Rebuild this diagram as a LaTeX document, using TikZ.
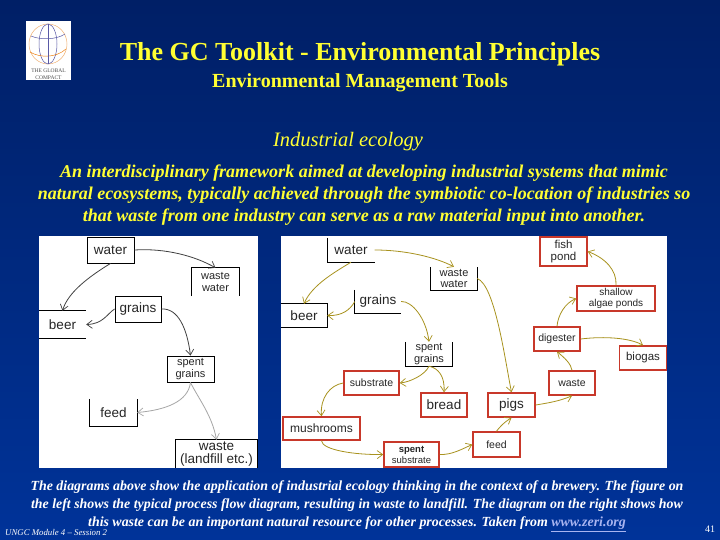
\documentclass[tikz,border=0pt]{standalone}
\usepackage{fontspec}
\setmainfont{Liberation Serif}
\newfontfamily\diagfont{Liberation Sans}
\usetikzlibrary{arrows.meta}
\definecolor{bgtop}{HTML}{001F66}
\definecolor{bgbot}{HTML}{003399}
\definecolor{titley}{HTML}{FFFF33}
\definecolor{redbox}{HTML}{C8382A}
\definecolor{olive}{HTML}{A8921E}
\definecolor{linkc}{HTML}{A8B4F0}
\tikzset{
  box/.style={inner sep=0pt,minimum width=#1,align=center,font=\diagfont\fontsize{13.5}{14}\selectfont,text=black!85},
  box/.default=47pt,
  ln/.style={line width=0.9pt,black},
  full/.style={box=#1,draw=black,line width=0.9pt},
  full/.default=47pt,
  redn/.style={box=#1,draw=redbox,line width=1.5pt,fill=white},
  redn/.default=47pt,
  two/.style={font=\diagfont\fontsize{11}{11.5}\selectfont},
  arr/.style={-{Straight Barb[length=5.5pt,width=8pt,line width=0.7pt]},line width=0.8pt},
  dk/.style={arr,draw=black!75},
  lt/.style={arr,draw=black!35},
  ol/.style={arr,draw=olive},
  ttl/.style={text=titley,font=\bfseries,inner sep=0pt},
  bodyt/.style={text=titley,font=\bfseries\itshape\fontsize{18}{22}\selectfont,align=center,inner sep=0pt},
  capt/.style={text=white,font=\bfseries\itshape\fontsize{13.9}{18}\selectfont,align=center,inner sep=0pt},
  globe/.style={line width=0.5pt}
}
\begin{document}
\begin{tikzpicture}[x=1pt,y=-1pt]
\useasboundingbox (0,0) rectangle (720,540);
\shade[top color=bgtop,bottom color=bgbot] (0,0) rectangle (720,540);
% logo
\fill[white] (26,21) rectangle (71,80);
\draw[globe,draw=orange!60!brown!60] (48,44) ellipse (19 and 20);
\draw[globe,draw=blue!30!gray] (48,44) ellipse (9 and 20);
\draw[globe,draw=orange!70!brown] (30,52) .. controls (40,58) and (56,58) .. (66,49);
\draw[globe,draw=blue!30!gray] (31,36) .. controls (40,40) and (56,40) .. (65,34);
\draw[globe,draw=blue!30!gray] (48,24) -- (48,64);
\node[inner sep=0pt,align=center,text=black!70,font=\fontsize{5.5}{7}\selectfont] (logotext) at (48.5,74) {THE GLOBAL\\COMPACT};
% titles
\node[ttl,font=\bfseries\fontsize{26}{26}\selectfont] (title) at (360,54) {The GC Toolkit - Environmental Principles};
\node[ttl,font=\bfseries\fontsize{20}{20}\selectfont] (subtitle) at (360,83) {Environmental Management Tools};
\node[ttl,font=\itshape\fontsize{20.5}{21}\selectfont] (heading) at (348,141.5) {Industrial ecology};
\node[bodyt] (body) at (364,195) {An interdisciplinary framework aimed at developing industrial systems that mimic\\natural ecosystems, typically achieved through the symbiotic co-location of industries so\\that waste from one industry can serve as a raw material input into another.};
% panels
\fill[white] (39,236) rectangle (258,468);
\fill[white] (281,236) rectangle (667,468);
% left diagram
\node[full,minimum height=26pt] (lwater) at (110.5,250) {water};
\node[box,two,minimum height=28pt] (lwaste) at (215.5,282) {waste\\water};
\draw[ln] (lwaste.south west) -- (lwaste.north west) -- (lwaste.north east) -- (lwaste.south east);
\node[full=46pt,minimum height=26pt] (lgrains) at (138,309) {grains};
\node[box,minimum height=27pt] (lbeer) at (62.5,324.5) {beer};
\draw[ln] (lbeer.north west) -- (lbeer.north east) (lbeer.south west) -- (lbeer.south east);
\node[full,two,minimum height=26pt] (lspent) at (190.5,369) {spent\\grains};
\node[box,minimum height=27pt] (lfeed) at (113.5,412.5) {feed};
\draw[ln] (lfeed.north west) -- (lfeed.south west) -- (lfeed.south east) -- (lfeed.north east);
\node[box=81pt,minimum height=28pt,font=\diagfont\fontsize{13.5}{13}\selectfont] (lland) at (216.5,454) {waste\\(landfill etc.)};
\draw[ln] (lland.south west) -- (lland.north west) -- (lland.north east) -- (lland.south east);
\draw[dk] (lwater.east) .. controls (165,248) and (195,256) .. (lwaste.north);
\draw[dk] (lwater.south) .. controls (90,276) and (68,292) .. (lbeer.north);
\draw[dk] (lgrains.west) .. controls (107,314) and (103,324) .. (lbeer.east);
\draw[dk] (lgrains.east) .. controls (178,308) and (187,328) .. (lspent.north);
\draw[lt] (lspent.south) .. controls (188,402) and (165,410) .. (lfeed.east);
\draw[lt] (lspent.south) .. controls (198,398) and (212,415) .. (lland.north);
% right diagram
\node[box,minimum height=24pt] (rwater) at (351,250) {water};
\draw[ln] (rwater.north west) -- (rwater.south west) -- (rwater.south east);
\node[box=46pt,two,minimum height=23pt] (rwaste) at (454,278.5) {waste\\water};
\draw[ln] (rwaste.north west) -- (rwaste.south west) -- (rwaste.south east) -- (rwaste.north east);
\node[box=46pt,minimum height=23pt] (rgrains) at (378,301.5) {grains};
\draw[ln] (rgrains.north west) -- (rgrains.south west) -- (rgrains.south east);
\node[box=46pt,minimum height=23pt] (rbeer) at (304,315.5) {beer};
\draw[ln] (rbeer.north west) -- (rbeer.north east) -- (rbeer.south east) -- (rbeer.south west);
\node[box=46pt,two,minimum height=24pt] (rspent) at (429,354) {spent\\grains};
\draw[ln] (rspent.north west) -- (rspent.south west) -- (rspent.south east) -- (rspent.north east);
\node[redn=55pt,minimum height=24pt,font=\diagfont\fontsize{10.5}{11}\selectfont] (rsub) at (371.5,383) {substrate};
\node[redn=46pt,minimum height=24pt] (rbread) at (444,405) {bread};
\node[redn=77pt,minimum height=23pt,font=\diagfont\fontsize{12}{12}\selectfont] (rmush) at (321.5,428.5) {mushrooms};
\node[redn=55pt,minimum height=25pt,font=\diagfont\fontsize{9.5}{11}\selectfont] (rspsub) at (411.5,454.5) {\textbf{spent}\\substrate};
\node[redn=47pt,minimum height=25pt,font=\diagfont\fontsize{10.5}{11}\selectfont] (rfeed) at (496.5,444.5) {feed};
\node[redn=47pt,minimum height=24pt] (rpigs) at (511.5,405) {pigs};
\node[redn=46pt,minimum height=24pt,font=\diagfont\fontsize{10.5}{11}\selectfont] (rwst) at (572,383) {waste};
\node[redn=46pt,minimum height=24pt,font=\diagfont\fontsize{10.5}{11}\selectfont] (rdig) at (557,339) {digester};
\node[redn=47pt,minimum height=24pt,font=\diagfont\fontsize{11.5}{11}\selectfont] (rbio) at (643,358) {biogas};
\node[redn=78pt,minimum height=25pt,font=\diagfont\fontsize{10}{10.5}\selectfont] (ralg) at (616,298.5) {shallow\\algae ponds};
\node[redn=47pt,minimum height=29pt,font=\diagfont\fontsize{11.5}{12}\selectfont] (rfish) at (563.5,251.5) {fish\\pond};
\draw[ol] (rwater.east) .. controls (405,250) and (435,257) .. (rwaste.north);
\draw[ol] (rwater.south) .. controls (335,272) and (312,285) .. (rbeer.north);
\draw[ol] (rgrains.west) .. controls (350,310) and (342,316) .. (rbeer.east);
\draw[ol] (rgrains.east) .. controls (412,301) and (426,318) .. (rspent.north);
\draw[ol] (rspent.south) .. controls (425,375) and (410,382) .. (rsub.east);
\draw[ol] (rspent.south) .. controls (438,368) and (445,376) .. (rbread.north);
\draw[ol] (rsub.west) .. controls (330,385) and (320,398) .. (rmush.north);
\draw[ol] (rmush.south) .. controls (322,450) and (355,455) .. (rspsub.west);
\draw[ol] (rspsub.east) .. controls (452,455) and (462,449) .. (rfeed.west);
\draw[ol] (rwaste.east) .. controls (495,285) and (505,360) .. (rpigs.north);
\draw[ol] (rfeed.north) .. controls (499,428) and (503,423) .. (rpigs.south);
\draw[ol] (rpigs.east) .. controls (548,403) and (560,401) .. (rwst.south);
\draw[ol] (rwst.north) .. controls (571,364) and (565,358) .. (rdig.south);
\draw[ol] (rdig.north) .. controls (558,315) and (565,303) .. (ralg.west);
\draw[ol] (rdig.east) .. controls (605,336) and (630,338) .. (rbio.north);
\draw[ol] (ralg.north) .. controls (617,270) and (605,258) .. (rfish.east);
% caption
\node[capt] (caption) at (357,506) {The diagrams above show the application of industrial ecology thinking in the context of a brewery. The figure on\\the left shows the typical process flow diagram, resulting in waste to landfill. The diagram on the right shows how\\this waste can be an important natural resource for other processes. Taken from \textcolor{linkc}{\underline{www.zeri.org}}};
\node[inner sep=0pt,anchor=west,text=white,font=\itshape\fontsize{8.8}{9}\selectfont] (footer) at (5,532) {UNGC Module 4 -- Session 2};
\node[inner sep=0pt,text=white,font=\fontsize{10}{10}\selectfont] (page) at (710,529) {41};
\end{tikzpicture}
\end{document}
